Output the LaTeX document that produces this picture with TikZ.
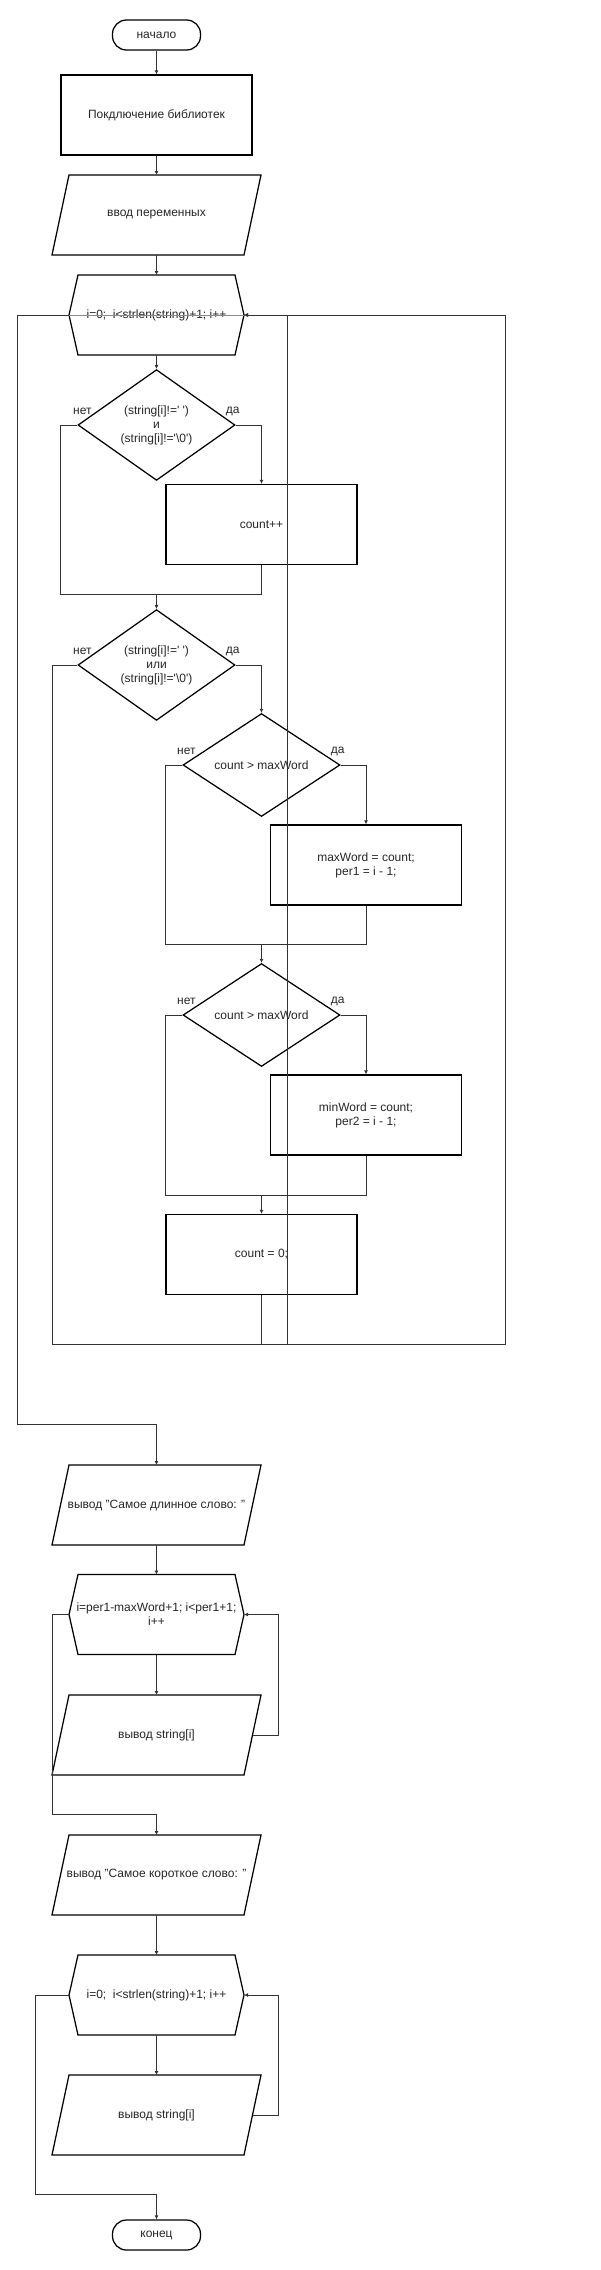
\documentclass[tikz,border=0pt]{standalone}
\usepackage{fontspec}
\setmainfont{Liberation Sans}
\usetikzlibrary{arrows.meta,shapes.geometric}

\tikzset{
  every node/.style={font=\fontsize{12}{14}\selectfont, align=center, text=black!85},
  frame/.style={draw=black, line width=1.25pt, line join=miter},
  term/.style={frame, rectangle, rounded corners=14pt, minimum width=88pt, minimum height=30pt},
  proc/.style={frame, rectangle, minimum width=191pt, minimum height=80pt},
  cond/.style={frame, diamond, minimum width=157pt, minimum height=100pt, inner sep=0pt},
  loopbox/.style={minimum width=175pt, minimum height=80pt, outer sep=0pt},
  iobox/.style={minimum width=209pt, minimum height=80pt, outer sep=0pt},
  wire/.style={draw=black!80, line width=1pt},
  flow/.style={wire, -{Latex[length=4pt,width=4pt]}},
}

\newcommand{\hexframe}[1]{\draw[frame] ([xshift=9pt]#1.north west) -- ([xshift=-9pt]#1.north east) -- (#1.east) -- ([xshift=-9pt]#1.south east) -- ([xshift=9pt]#1.south west) -- (#1.west) -- cycle;}
\newcommand{\ioframe}[1]{\draw[frame] ([xshift=17pt]#1.north west) -- (#1.north east) -- ([xshift=-17pt]#1.south east) -- (#1.south west) -- cycle;}

\begin{document}
\begin{tikzpicture}[x=1pt,y=-1pt]
          \useasboundingbox (0,0) rectangle (600,2270);
          \node[term] (start) at (156.5,35) {начало};
          \node[proc] (lib) at (156.5,115) {Покдлючение библиотек};
          \node[iobox] (inp) at (156.5,215) {ввод переменных};
          \node[loopbox] (loop1) at (156.5,315) {i=0;\ \ i<strlen(string)+1; i++};
          \node[cond] (c1) at (156.5,425) {(string[i]!=\textquotesingle\ \textquotesingle)\\и\\(string[i]!=\textquotesingle\textbackslash0\textquotesingle)};
          \node[proc] (cnt) at (261.5,524.5) {count++};
          \node[cond] (c2) at (156.5,665) {(string[i]!=\textquotesingle\ \textquotesingle)\\или\\(string[i]!=\textquotesingle\textbackslash0\textquotesingle)};
          \node[cond] (c3) at (261.5,765) {count > maxWord};
          \node[proc] (mx) at (366,865) {maxWord = count;\\per1 = i - 1;};
          \node[cond] (c4) at (261.5,1015) {count > maxWord};
          \node[proc] (mn) at (366,1115) {minWord = count;\\per2 = i - 1;};
          \node[proc] (zero) at (261.5,1254.5) {count = 0;};
          \node[iobox] (out1) at (156.5,1505) {вывод "Самое длинное слово: "};
          \node[loopbox] (loop2) at (156.5,1614.5) {i=per1-maxWord+1; i<per1+1;\\i++};
          \node[iobox] (pr1) at (156.5,1735) {вывод string[i]};
          \node[iobox] (out2) at (156.5,1875) {вывод "Самое короткое слово: "};
          \node[loopbox] (loop3) at (156.5,1995) {i=0;\ \ i<strlen(string)+1; i++};
          \node[iobox] (pr2) at (156.5,2115) {вывод string[i]};
          \node[term] (stop) at (156.5,2235) {конец};
          \hexframe{loop1}
          \hexframe{loop2}
          \hexframe{loop3}
          \ioframe{inp}
          \ioframe{out1}
          \ioframe{pr1}
          \ioframe{out2}
          \ioframe{pr2}
          \node (c1no) at ([shift={(5,-14)}]c1.west) {нет};
          \node (c1yes) at ([shift={(-3,-14)}]c1.east) {да};
          \node (c2no) at ([shift={(5,-14)}]c2.west) {нет};
          \node (c2yes) at ([shift={(-3,-14)}]c2.east) {да};
          \node (c3no) at ([shift={(4,-14)}]c3.west) {нет};
          \node (c3yes) at ([shift={(-3,-14)}]c3.east) {да};
          \node (c4no) at ([shift={(4,-14)}]c4.west) {нет};
          \node (c4yes) at ([shift={(-3,-14)}]c4.east) {да};
          \coordinate (m1) at (156.5,594);
          \coordinate (m2) at (261.5,944);
          \coordinate (m3) at (261.5,1195);
          \coordinate (r1) at (505,1344);
          \coordinate (r2) at (52,1344);
          \coordinate (r3) at (287,1344);
          \coordinate (e1) at (17,1424);
          \coordinate (e2) at (52,1814);
          \coordinate (e3) at (35,2194);
          \draw[flow] (start) to (lib);
          \draw[flow] (lib) to (inp);
          \draw[flow] (inp) to (loop1);
          \draw[flow] (loop1) to (c1);
          \draw[flow] (c1.east) -| (cnt.north);
          \draw[wire] (c1.west) -- ++(-17,0) |- (m1);
          \draw[wire] (cnt.south) |- (m1);
          \draw[flow] (m1) to (c2);
          \draw[flow] (c2.east) -| (c3.north);
          \draw[flow] (c3.east) -| (mx.north);
          \draw[wire] (c3.west) -- ++(-17,0) |- (m2);
          \draw[wire] (mx.south) |- (m2);
          \draw[flow] (m2) to (c4);
          \draw[flow] (c4.east) -| (mn.north);
          \draw[wire] (c4.west) -- ++(-17,0) |- (m3);
          \draw[wire] (mn.south) |- (m3);
          \draw[flow] (m3) to (zero);
          \draw[flow] (zero.south) |- (r1) |- (loop1.east);
          \draw[flow] (c2.west) -| (r2) -- (r3) |- (loop1.east);
          \draw[wire, black!45] (loop1.west) -- (loop1.east);
          \draw[flow] (loop1.west) -| (e1) -| (out1.north);
          \draw[flow] (out1) to (loop2);
          \draw[flow] (loop2) to (pr1);
          \draw[flow] ([xshift=-8.5pt]pr1.east) -- ++(25.5,0) |- (loop2.east);
          \draw[flow] (loop2.west) -| (e2) -| (out2.north);
          \draw[flow] (out2) to (loop3);
          \draw[flow] (loop3) to (pr2);
          \draw[flow] ([xshift=-8.5pt]pr2.east) -- ++(25.5,0) |- (loop3.east);
          \draw[flow] (loop3.west) -| (e3) -| (stop.north);
        \end{tikzpicture}
\end{document}
